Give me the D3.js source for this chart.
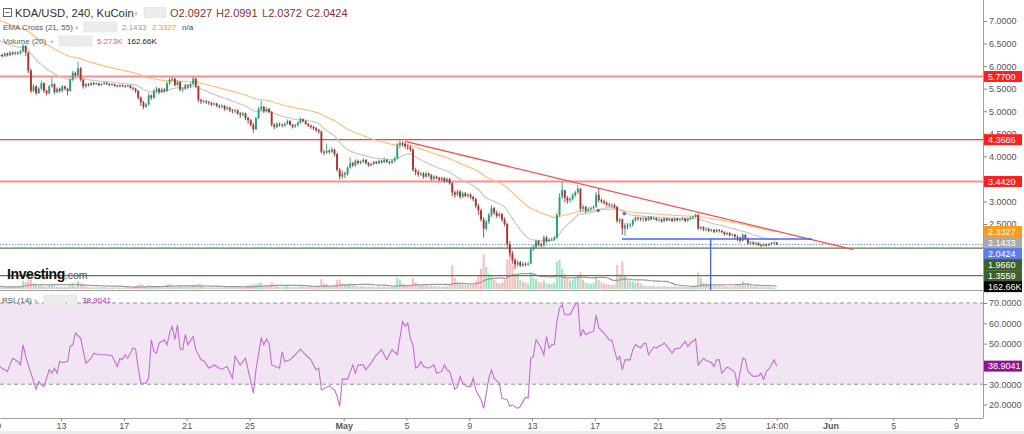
<!DOCTYPE html>
<html><head><meta charset="utf-8">
<script src="https://cdn.jsdelivr.net/npm/d3@7"></script>
<style>
body{margin:0;background:#fff;overflow:hidden}
svg{display:block;font-family:"Liberation Sans",Arial,sans-serif}
</style></head>
<body><svg id="c" width="1024" height="434"></svg>
<script>
// ---------------- DATA (4h candles, KDA/USD KuCoin, from 2021-04-09 02:00) ----------------
const firstOpen = 6.22;
const closes = [
6.25,6.22,6.28,6.24,6.30,6.27, 6.30,6.28,6.33,6.45,6.30,5.90, 5.45,5.55,5.40,5.50,5.62,5.45,
5.40,5.55,5.60,5.42,5.50,5.45, 5.55,5.50,5.45,5.70,5.85,5.80, 5.95,5.70,5.55,5.60,5.58,5.62,
5.60,5.62,5.58,5.60,5.63,5.60, 5.58,5.60,5.57,5.55,5.58,5.56, 5.55,5.57,5.52,5.50,5.45,5.30,
5.20,5.10,5.15,5.35,5.30,5.45, 5.50,5.42,5.48,5.45,5.62,5.70, 5.72,5.58,5.65,5.48,5.50,5.58,
5.55,5.60,5.72,5.55,5.25,5.22, 5.22,5.20,5.18,5.15,5.17,5.12, 5.10,5.12,5.05,5.08,5.02,5.00,
5.02,4.95,4.92,4.95,4.85,4.80, 4.70,4.60,4.85,5.05,5.10,5.00, 5.05,4.98,4.70,4.65,4.72,4.70,
4.68,4.72,4.78,4.70,4.66,4.69, 4.75,4.82,4.78,4.72,4.68,4.65, 4.62,4.58,4.55,4.10,4.08,4.12,
4.10,4.15,4.05,3.70,3.55,3.62, 3.60,3.75,3.85,3.80,3.90,3.85, 3.88,3.92,3.85,3.80,3.83,3.88,
3.85,3.90,3.87,3.92,3.88,3.86, 3.90,3.95,4.25,4.30,4.28,4.22, 4.20,4.15,3.70,3.65,3.60,3.62,
3.55,3.62,3.58,3.50,3.55,3.52, 3.48,3.52,3.45,3.50,3.40,3.20, 3.15,3.22,3.10,3.18,3.12,3.15,
3.10,3.05,2.90,2.80,2.60,2.40, 2.55,2.70,2.85,2.75,2.68,2.72, 2.60,2.50,2.05,1.85,1.70,1.60,
1.65,1.58,1.62,1.60,1.62,1.95, 1.98,2.12,2.05,2.02,2.20,2.12, 2.15,2.16,2.20,2.70,3.10,3.25,
3.08,3.02,3.05,3.14,3.20,3.28, 2.84,2.88,2.80,2.83,2.85,2.88, 3.15,3.03,3.00,2.97,2.93,2.92,
2.92,2.88,2.57,2.60,2.40,2.47, 2.466,2.486,2.586,2.646,2.626,2.616, 2.63,2.58,2.65,2.61,2.63,2.59,
2.60,2.56,2.62,2.58,2.61,2.57, 2.62,2.58,2.60,2.62,2.57,2.61, 2.64,2.66,2.70,2.40,2.43,2.38,
2.39,2.35,2.37,2.33,2.37,2.35, 2.32,2.27,2.30,2.25,2.27,2.22, 2.20,2.13,2.26,2.18,2.07,2.09,
2.06,2.08,2.04,2.02,2.05,2.02, 2.06,2.08,2.0927,2.0424];
const highs = [
6.29,6.28,6.31,6.30,6.34,6.32, 6.33,6.32,6.36,6.49,6.46,6.32, 5.95,5.60,5.58,5.54,5.68,5.64,
5.48,5.58,5.75,5.62,5.53,5.52, 5.58,5.57,5.52,5.74,5.90,5.88, 6.10,5.98,5.72,5.63,5.62,5.65,
5.65,5.64,5.63,5.62,5.66,5.64, 5.62,5.62,5.61,5.58,5.60,5.59, 5.58,5.59,5.58,5.54,5.52,5.47,
5.33,5.23,5.18,5.40,5.37,5.50, 5.54,5.52,5.52,5.52,5.66,5.74, 5.76,5.74,5.68,5.67,5.53,5.61,
5.60,5.64,5.77,5.74,5.57,5.28, 5.26,5.25,5.23,5.21,5.20,5.19, 5.15,5.16,5.14,5.11,5.10,5.05,
5.06,5.04,4.98,4.98,4.97,4.88, 4.83,4.74,4.88,5.10,5.24,5.12, 5.09,5.07,5.00,4.74,4.76,4.75,
4.73,4.75,4.82,4.80,4.72,4.72, 4.78,4.86,4.84,4.80,4.74,4.70, 4.68,4.65,4.61,4.57,4.15,4.28,
4.16,4.20,4.17,4.08,3.74,3.68, 3.66,3.78,3.98,3.88,3.93,3.93, 3.91,3.96,3.94,3.87,3.86,3.90,
3.90,3.93,3.92,3.97,3.94,3.90, 3.93,3.99,4.30,4.36,4.33,4.31, 4.26,4.24,4.18,3.75,3.70,3.66,
3.65,3.66,3.64,3.61,3.58,3.57, 3.55,3.55,3.54,3.53,3.52,3.43, 3.24,3.27,3.25,3.22,3.21,3.18,
3.18,3.13,3.08,2.95,2.84,2.65, 2.60,2.75,2.92,2.88,2.80,2.76, 2.75,2.65,2.53,2.12,1.90,1.75,
1.70,1.68,1.66,1.65,1.66,1.99, 2.04,2.15,2.14,2.08,2.25,2.24, 2.19,2.20,2.24,2.75,3.18,3.44,
3.25,3.12,3.10,3.18,3.24,3.36, 3.30,2.93,2.90,2.87,2.89,2.91, 3.21,3.28,3.07,3.04,3.00,2.97,
2.96,2.95,2.90,2.63,2.62,2.52, 2.52,2.53,2.61,2.67,2.66,2.65, 2.67,2.65,2.68,2.67,2.66,2.65,
2.63,2.62,2.65,2.64,2.64,2.63, 2.65,2.64,2.63,2.66,2.64,2.64, 2.67,2.68,2.73,2.72,2.46,2.45,
2.43,2.42,2.40,2.39,2.40,2.39, 2.37,2.34,2.33,2.32,2.29,2.28, 2.25,2.22,2.29,2.28,2.20,2.12,
2.12,2.11,2.10,2.07,2.07,2.07, 2.08,2.10,2.11,2.0991];
const lows = [
6.18,6.19,6.20,6.21,6.22,6.24, 6.24,6.25,6.26,6.30,6.22,5.85, 5.40,5.42,5.36,5.38,5.46,5.40,
5.35,5.37,5.52,5.38,5.40,5.41, 5.42,5.46,5.35,5.43,5.66,5.76, 5.78,5.66,5.50,5.52,5.55,5.56,
5.57,5.58,5.56,5.56,5.59,5.58, 5.55,5.56,5.54,5.53,5.53,5.54, 5.52,5.53,5.50,5.46,5.40,5.25,
5.12,5.05,5.07,5.12,5.25,5.27, 5.40,5.38,5.40,5.42,5.43,5.58, 5.66,5.55,5.56,5.44,5.42,5.47,
5.50,5.52,5.58,5.52,5.20,5.16, 5.18,5.16,5.14,5.11,5.12,5.09, 5.06,5.07,5.01,5.02,4.98,4.95,
4.96,4.92,4.85,4.88,4.80,4.72, 4.66,4.52,4.58,4.82,5.00,4.96, 4.97,4.95,4.66,4.60,4.62,4.66,
4.64,4.65,4.70,4.68,4.62,4.63, 4.66,4.72,4.75,4.70,4.65,4.61, 4.58,4.54,4.50,4.06,4.03,4.05,
4.05,4.07,4.00,3.66,3.48,3.50, 3.52,3.57,3.72,3.76,3.77,3.82, 3.82,3.85,3.82,3.77,3.78,3.80,
3.82,3.83,3.84,3.85,3.85,3.82, 3.83,3.87,3.93,4.18,4.22,4.17, 4.14,4.10,3.66,3.58,3.55,3.56,
3.50,3.52,3.54,3.46,3.47,3.49, 3.45,3.45,3.42,3.42,3.37,3.12, 3.08,3.12,3.06,3.07,3.09,3.08,
3.05,3.00,2.85,2.70,2.55,2.20, 2.35,2.50,2.66,2.70,2.63,2.64, 2.55,2.45,1.98,1.78,1.62,1.50,
1.55,1.54,1.55,1.56,1.57,1.60, 1.90,1.95,2.01,1.98,2.00,2.08, 2.10,2.12,2.13,2.18,2.66,3.05,
2.98,2.95,2.97,3.02,3.10,3.17, 2.78,2.79,2.74,2.77,2.79,2.81, 2.86,2.98,2.96,2.93,2.89,2.88,
2.87,2.84,2.52,2.50,2.26,2.24, 2.38,2.41,2.44,2.55,2.57,2.56, 2.55,2.55,2.57,2.58,2.59,2.56,
2.55,2.53,2.54,2.56,2.56,2.54, 2.55,2.56,2.56,2.58,2.54,2.55, 2.60,2.61,2.64,2.36,2.37,2.34,
2.34,2.32,2.32,2.30,2.31,2.31, 2.29,2.24,2.25,2.22,2.23,2.18, 2.12,2.08,2.11,2.14,2.04,2.04,
2.03,2.03,2.01,1.99,2.00,2.00, 2.01,2.04,2.05,2.0372];
const volumesK = [
150,120,90,110,130,100, 140,120,160,450,380,520, 500,300,260,200,280,150,
140,210,300,180,120,110, 130,110,150,240,300,160, 420,310,260,140,110,90,
80,100,90,120,110,90, 70,90,80,100,85,75, 80,95,85,110,150,230,
260,200,140,220,150,180, 170,120,110,150,240,260, 200,150,120,190,110,130,
140,160,230,150,280,180, 120,90,80,100,85,95, 90,80,100,85,110,120,
100,120,130,110,180,200, 220,300,260,320,340,200, 170,140,380,250,160,120,
110,130,160,120,100,95, 120,160,130,110,100,120, 110,130,150,540,300,260,
180,170,220,480,520,300, 260,240,300,180,200,150, 140,160,130,150,120,110,
100,130,110,140,120,100, 110,150,620,480,300,250, 220,200,560,380,260,200,
220,180,150,200,160,140, 150,130,170,140,250,1300, 600,400,300,250,220,200,
220,260,450,700,1100,1900, 1200,800,700,500,350,300, 350,500,1600,2400,1300,800,
700,500,400,350,300,900, 600,550,400,350,450,300, 280,260,350,1500,1600,1100,
800,600,450,500,650,700, 900,500,350,300,280,320, 600,500,350,300,250,240,
230,260,1300,800,1500,700, 500,450,400,350,380,300, 200,180,150,170,160,140,
150,130,160,140,120,130, 140,120,130,150,120,110, 120,130,150,900,600,350,
300,250,200,180,160,150, 170,200,120,150,130,180, 220,260,420,300,260,200,
143,140,130,120,110,100, 95,90,80,5.273];
// RSI(14): candle index -> value
const rsiCandle = [0,1,3,4,5,7,8,9,10,11,12,14,15,16,17,19,20,21,22,23,24,26,27,28,29,31,33,35,36,38,41,43,45,46,47,48,49,51,52,53,54,56,57,58,59,60,61,63,64,65,66,67,68,69,70,71,72,74,75,77,78,80,82,84,85,87,89,90,92,94,95,97,98,100,101,102,103,104,107,108,109,111,113,115,117,119,120,121,122,123,126,128,129,130,131,133,135,136,137,139,140,142,144,146,148,150,152,153,154,155,156,157,158,159,160,161,162,164,166,167,169,170,171,172,174,175,176,177,179,180,181,182,184,185,187,188,189,191,192,194,195,196,198,199,201,202,203,204,205,207,208,209,210,211,212,213,214,215,216,218,219,220,221,222,223,224,225,227,228,229,231,233,234,236,237,238,239,241,242,243,245,246,247,248,250,251,252,254,255,257,258,260,262,263,264,266,267,269,270,272,273,274,275,276,278,279,281,282,284,285,286,288,290,291,292,293,294,296,297];
const rsiValue = [38.7,37.9,36.3,39.5,42.8,41.2,39.5,49.4,43.7,39.5,35.4,27.5,31.3,29.7,28.8,37.1,35.4,37.9,35.4,41.2,40.7,41.2,48.6,49.4,55.2,52.7,40.4,42.8,45.3,44.5,44.5,44.0,38.7,42.8,42.0,44.5,42.8,47.8,47.3,37.9,30.5,30.5,33.0,51.9,46.1,45.3,50.2,51.9,49.4,55.2,58.5,51.9,59.3,47.3,47.0,54.4,49.4,53.5,47.0,42.0,41.7,37.9,39.5,37.9,37.4,38.7,33.0,43.7,39.5,42.8,37.1,25.6,37.1,52.7,49.4,52.2,50.2,39.5,37.9,46.1,41.2,42.0,44.5,47.3,44.5,42.0,39.5,37.1,37.9,27.2,29.2,27.2,24.2,19.0,32.5,32.5,39.5,35.4,39.5,39.5,37.1,40.4,44.5,47.0,42.0,47.0,44.5,52.7,60.9,58.5,60.1,52.7,49.4,37.9,38.7,41.2,38.7,37.9,39.5,35.4,36.3,39.5,37.1,36.3,27.5,28.8,33.8,30.5,28.8,28.8,33.0,27.2,22.3,18.1,33.0,37.1,33.0,30.5,23.1,22.3,19.0,19.8,18.1,19.0,23.6,23.1,42.8,43.7,51.9,47.8,44.5,53.5,47.8,49.4,49.4,60.9,67.5,69.2,64.2,64.2,66.7,69.2,70.0,53.5,56.8,54.4,55.2,56.0,64.2,57.7,55.2,51.9,51.6,42.0,43.7,37.1,42.0,42.0,47.0,49.4,47.8,49.8,50.2,44.5,48.3,47.8,48.6,50.2,48.9,45.3,47.3,47.8,51.1,48.6,50.2,52.2,39.5,42.8,41.7,40.7,38.7,42.0,42.0,35.4,38.4,37.9,35.8,28.8,42.8,42.0,36.3,33.8,34.1,35.4,32.2,36.3,37.4,42.0,38.9041];
const emaSeeds = {fast: 6.6, slow: 7.05};   // EMA values entering the window
const levelsRed = [5.77, 4.3686, 3.442];
const levelsGreen = [1.966, 1.3559];
const lastPrice = 2.0424;
const trendLine = [{t: Date.UTC(2021,4,4,22), p: 4.33}, {t: Date.UTC(2021,5,2,11), p: 1.93}];
const blueLevel = {from: Date.UTC(2021,4,18,17,30), to: Date.UTC(2021,4,30,20), p: 2.167, mark: Date.UTC(2021,4,24,9)};
const blueDots = [{t: Date.UTC(2021,4,17,5), p: 2.80}, {t: Date.UTC(2021,4,18,21), p: 2.73}];
const priceTicks = [1.5,2,2.5,3,3.5,4,4.5,5,5.5,6,6.5,7];
const rsiTicks = [20,30,40,50,60,70];
const xTicks = [[2021,3,9,0],[2021,3,13,0],[2021,3,17,0],[2021,3,21,0],[2021,3,25,0],[2021,4,1,0],[2021,4,5,0],[2021,4,9,0],[2021,4,13,0],[2021,4,17,0],[2021,4,21,0],[2021,4,25,0],[2021,4,28,14],[2021,5,1,0],[2021,5,5,0],[2021,5,9,0]];
const header = {sym: "KDA/USD, 240, KuCoin", o: "2.0927", h: "2.0991", l: "2.0372", c: "2.0424"};

// ---------------- BUILD ----------------
const H4 = 4*3600*1000, t0 = Date.UTC(2021,3,9,2);
const candles = closes.map((c,i)=>{
  const o = i ? closes[i-1] : firstOpen;
  return {t: new Date(t0 + i*H4), o, c, h: Math.max(highs[i],o,c), l: Math.min(lows[i],o,c), v: volumesK[i]};
});
function ema(vals, n, seed){ const a=2/(n+1); let e=seed; return vals.map(v=> e = e + a*(v-e)); }
const emaFast = ema(closes,21,emaSeeds.fast), emaSlow = ema(closes,55,emaSeeds.slow);
const volMA = volumesK.map((v,i)=> d3.mean(volumesK.slice(Math.max(0,i-19), i+1)));

const svg = d3.select("#c");
const PR = 983, PB = 290, RB = 418;
const x = d3.scaleUtc().domain([new Date(Date.UTC(2021,3,9)), new Date(Date.UTC(2021,5,9))]).range([-1.8, 956]);
const y = d3.scaleLinear().domain([2.5,7]).range([224,21]);
const yv = d3.scaleLinear().domain([0,2400]).range([289,245]);
const yr = d3.scaleLinear().domain([20,70]).range([404.5,303]);

const defs = svg.append("defs");
defs.append("clipPath").attr("id","cp").append("rect").attr("x",0).attr("y",0).attr("width",PR).attr("height",PB);
defs.append("clipPath").attr("id","cr").append("rect").attr("x",0).attr("y",PB+1).attr("width",PR).attr("height",RB-PB-1);

const gp = svg.append("g").attr("clip-path","url(#cp)");
// volume
gp.append("g").selectAll("rect").data(candles).join("rect")
  .attr("x",d=>x(d.t)-1).attr("width",2)
  .attr("y",d=>yv(d.v)).attr("height",d=>Math.max(0.5, yv(0)-yv(d.v)))
  .attr("fill",d=> d.c>=d.o ? "rgba(70,205,145,0.55)" : "rgba(250,120,120,0.5)");
gp.append("path").datum(candles).attr("fill","none").attr("stroke","#9a9a9a").attr("stroke-width",1.2)
  .attr("d", d3.line().x(d=>x(d.t)).y((d,i)=>yv(volMA[i])));
// levels
levelsRed.forEach((p,k)=>{
  gp.append("line").attr("x1",0).attr("x2",PR).attr("y1",y(p)).attr("y2",y(p))
    .attr("stroke", k===1 ? "#ff3b3b" : "#ff8c8c").attr("stroke-width", k===1 ? 1.2 : 1.8);
});
levelsGreen.forEach(p=>{
  gp.append("line").attr("x1",0).attr("x2",PR).attr("y1",y(p)).attr("y2",y(p))
    .attr("stroke","#5b7a45").attr("stroke-width",1.4);
});
gp.append("line").attr("x1",0).attr("x2",PR).attr("y1",y(lastPrice)).attr("y2",y(lastPrice))
  .attr("stroke","#6f8cf5").attr("stroke-width",1).attr("stroke-dasharray","1.5,1.5");
// EMAs
const ln = arr => d3.line().x((d,i)=>x(candles[i].t)).y(d=>y(d))(arr);
gp.append("path").attr("d",ln(emaSlow)).attr("fill","none").attr("stroke","#ffbf80").attr("stroke-width",1.2);
gp.append("path").attr("d",ln(emaFast)).attr("fill","none").attr("stroke","#c9c9c9").attr("stroke-width",1.2);
// candles
const gc = gp.append("g");
gc.selectAll("line").data(candles).join("line")
  .attr("x1",d=>x(d.t)).attr("x2",d=>x(d.t)).attr("y1",d=>y(d.h)).attr("y2",d=>y(d.l))
  .attr("stroke",d=>d.c>=d.o?"#2a9d7c":"#a8352f").attr("stroke-width",0.9);
gc.selectAll("rect").data(candles).join("rect")
  .attr("x",d=>x(d.t)-0.95).attr("width",1.9)
  .attr("y",d=>y(Math.max(d.o,d.c))).attr("height",d=>Math.max(0.8, Math.abs(y(d.o)-y(d.c))))
  .attr("fill",d=>d.c>=d.o?"#2a9d7c":"#a8352f");
// drawings
gp.append("line").attr("x1",x(new Date(trendLine[0].t))).attr("y1",y(trendLine[0].p))
  .attr("x2",x(new Date(trendLine[1].t))).attr("y2",y(trendLine[1].p))
  .attr("stroke","#ff4a4a").attr("stroke-width",1.3);
gp.append("line").attr("x1",x(new Date(blueLevel.from))).attr("x2",x(new Date(blueLevel.to)))
  .attr("y1",y(blueLevel.p)).attr("y2",y(blueLevel.p)).attr("stroke","#5060f0").attr("stroke-width",1.3);
gp.append("line").attr("x1",x(new Date(blueLevel.mark))).attr("x2",x(new Date(blueLevel.mark)))
  .attr("y1",y(blueLevel.p)).attr("y2",PB).attr("stroke","#5060f0").attr("stroke-width",1.3);
gp.selectAll("circle.bd").data(blueDots).join("circle").attr("class","bd")
  .attr("cx",d=>x(new Date(d.t))).attr("cy",d=>y(d.p)).attr("r",1.8).attr("fill","#6a6ad8");

// RSI pane
const gr = svg.append("g").attr("clip-path","url(#cr)");
gr.append("rect").attr("x",0).attr("width",PR).attr("y",yr(70)).attr("height",yr(30)-yr(70)).attr("fill","#f1e5f4");
[70,30].forEach(v=> gr.append("line").attr("x1",0).attr("x2",PR).attr("y1",yr(v)).attr("y2",yr(v))
  .attr("stroke","#9a8f9a").attr("stroke-width",1).attr("stroke-dasharray","4,3"));
gr.append("path").datum(rsiCandle.map((c,k)=>({t:candles[c].t, v:rsiValue[k]})))
  .attr("fill","none").attr("stroke","#c46fd0").attr("stroke-width",1.1)
  .attr("d", d3.line().x(d=>x(d.t)).y(d=>yr(d.v)));

// frames
svg.append("rect").attr("x",PR).attr("y",0).attr("width",1024-PR).attr("height",434).attr("fill","#fff");
svg.append("line").attr("x1",0).attr("x2",PR).attr("y1",PB+0.5).attr("y2",PB+0.5).attr("stroke","#a0a0a0");
svg.append("line").attr("x1",PR+0.5).attr("x2",PR+0.5).attr("y1",0).attr("y2",RB).attr("stroke","#a0a0a0");
svg.append("line").attr("x1",0).attr("x2",PR+0.5).attr("y1",RB+0.5).attr("y2",RB+0.5).attr("stroke","#a0a0a0");
svg.append("rect").attr("x",0).attr("y",431).attr("width",1024).attr("height",3).attr("fill","#ececec");

// value labels on the axis (stacked)
const rl = rsiValue[rsiValue.length-1];
const tags = [
  {v: y(levelsRed[0]), t: d3.format(".4f")(levelsRed[0]), bg:"#ff1f1f", fg:"#fff"},
  {v: y(levelsRed[1]), t: d3.format(".4f")(levelsRed[1]), bg:"#ff1f1f", fg:"#fff"},
  {v: y(levelsRed[2]), t: d3.format(".4f")(levelsRed[2]), bg:"#ff1f1f", fg:"#fff"},
  {v: y(emaSlow[emaSlow.length-1]), t: d3.format(".4f")(emaSlow[emaSlow.length-1]), bg:"#ff9a1a", fg:"#fff"},
  {v: y(emaFast[emaFast.length-1]), t: d3.format(".4f")(emaFast[emaFast.length-1]), bg:"#a9a9a9", fg:"#fff"},
  {v: y(lastPrice), t: d3.format(".4f")(lastPrice), bg:"#5b7cf0", fg:"#fff"},
  {v: y(levelsGreen[0]), t: d3.format(".4f")(levelsGreen[0]), bg:"#3f5f2c", fg:"#fff"},
  {v: y(levelsGreen[1]), t: d3.format(".4f")(levelsGreen[1]), bg:"#3f5f2c", fg:"#fff"},
  {v: yv(volMA[volMA.length-1]), t: d3.format(".2f")(volMA[volMA.length-1])+"K", bg:"#000", fg:"#fff"}
].sort((a,b)=>a.v-b.v);
let prev = -100;
tags.forEach(g=>{ g.y = Math.max(g.v, prev+11); prev = g.y; });
tags.push({y: yr(rl), t: d3.format(".4f")(rl), bg:"#8c168c", fg:"#fff"});
const covered = py => tags.some(g => Math.abs(g.y - py) < 5.5);

// right axes (tick labels hidden where a value tag sits on top)
const ay = svg.append("g").attr("transform",`translate(${PR},0)`)
  .call(d3.axisRight(y).tickValues(priceTicks.filter(v=>!covered(y(v)))).tickFormat(d3.format(".4f")).tickSize(4).tickPadding(2));
ay.select(".domain").remove();
ay.selectAll("line").attr("stroke","#888");
ay.selectAll("text").attr("fill","#555").style("font-size","9px");
const ar = svg.append("g").attr("transform",`translate(${PR},0)`)
  .call(d3.axisRight(yr).tickValues(rsiTicks.filter(v=>!covered(yr(v)))).tickFormat(d3.format(".4f")).tickSize(4).tickPadding(2));
ar.select(".domain").remove();
ar.selectAll("line").attr("stroke","#888");
ar.selectAll("text").attr("fill","#555").style("font-size","9px");

const gt = svg.append("g");
tags.forEach(g=>{
  gt.append("rect").attr("x",PR+1).attr("y",g.y-5.5).attr("width",38).attr("height",11).attr("fill",g.bg);
  gt.append("text").attr("x",PR+5).attr("y",g.y+3.2).attr("fill",g.fg).style("font-size","9px").text(g.t);
});

// x axis
const ax = svg.append("g").attr("transform",`translate(0,${RB})`)
  .call(d3.axisBottom(x).tickValues(xTicks.map(a=>new Date(Date.UTC(...a))))
    .tickFormat(d=> d.getUTCHours()!==0 ? d3.utcFormat("%H:%M")(d) : (d.getUTCDate()===1 ? d3.utcFormat("%b")(d) : d.getUTCDate()))
    .tickSize(3).tickPadding(2));
ax.select(".domain").remove();
ax.selectAll("line").attr("stroke","#888");
ax.selectAll("text").attr("fill","#555").style("font-size","9px")
  .style("font-weight", d=> (d.getUTCDate()===1 && d.getUTCHours()===0) ? "bold" : "normal");

// headers
function icons(g, x0, yc, n){
  for(let k=0;k<n;k++){
    g.append("rect").attr("x",x0+k*11.5).attr("y",yc-5).attr("width",10).attr("height",10)
      .attr("fill","#ececec").attr("stroke","#dcdcdc").attr("stroke-width",0.6);
  }
}
const gh = svg.append("g");
gh.append("rect").attr("x",3.5).attr("y",8.5).attr("width",8).attr("height",8).attr("fill","none").attr("stroke","#666");
gh.append("line").attr("x1",5.5).attr("x2",9.5).attr("y1",12.5).attr("y2",12.5).attr("stroke","#666");
gh.append("text").attr("x",15).attr("y",17).attr("fill","#333").style("font-size","11.3px").text(header.sym);
gh.append("text").attr("x",133).attr("y",16).attr("fill","#bbb").style("font-size","6px").text("▼");
icons(gh, 144, 12.5, 2);
const ohlc = [["O",header.o,170],["H",header.h,216],["L",header.l,262],["C",header.c,306]];
ohlc.forEach(([k,v,x0])=>{
  const t = gh.append("text").attr("x",x0).attr("y",17).style("font-size","11px");
  t.append("tspan").attr("fill","#555").text(k);
  t.append("tspan").attr("fill","#8e2a2a").text(v);
});
const fs = "8px";
gh.append("text").attr("x",3).attr("y",30).attr("fill","#555").style("font-size",fs).text("EMA Cross (21, 55)");
gh.append("text").attr("x",74).attr("y",29.5).attr("fill","#bbb").style("font-size","5.5px").text("▼");
icons(gh, 84, 27, 3);
gh.append("text").attr("x",122).attr("y",30).attr("fill","#999").style("font-size",fs).text(d3.format(".4f")(emaFast[emaFast.length-1]));
gh.append("text").attr("x",152).attr("y",30).attr("fill","#ff9800").style("font-size",fs).text(d3.format(".4f")(emaSlow[emaSlow.length-1]));
gh.append("text").attr("x",182).attr("y",30).attr("fill","#2b3fa8").style("font-size",fs).text("n/a");
gh.append("text").attr("x",3).attr("y",44).attr("fill","#555").style("font-size",fs).text("Volume (20)");
gh.append("text").attr("x",49).attr("y",43.5).attr("fill","#bbb").style("font-size","5.5px").text("▼");
icons(gh, 59, 41, 3);
gh.append("text").attr("x",97).attr("y",44).attr("fill","#f05a5a").style("font-size",fs).text(d3.format(".3f")(volumesK[volumesK.length-1])+"K");
gh.append("text").attr("x",127).attr("y",44).attr("fill","#222").style("font-size",fs).text(d3.format(".2f")(volMA[volMA.length-1])+"K");
gh.append("text").attr("x",2).attr("y",303).attr("fill","#555").style("font-size",fs).text("RSI (14)");
gh.append("text").attr("x",33).attr("y",302.5).attr("fill","#bbb").style("font-size","5.5px").text("▼");
icons(gh, 44, 300, 3);
gh.append("text").attr("x",82).attr("y",303).attr("fill","#9c27b0").style("font-size",fs).text(d3.format(".4f")(rl));
// logo
const lg = gh.append("text").attr("x",7).attr("y",279);
lg.append("tspan").attr("fill","#111").style("font-size","14px").style("font-weight","bold").style("letter-spacing","-0.4px").text("Investing");
lg.append("tspan").attr("fill","#555").style("font-size","10.5px").text(".com");
</script>
</body></html>
